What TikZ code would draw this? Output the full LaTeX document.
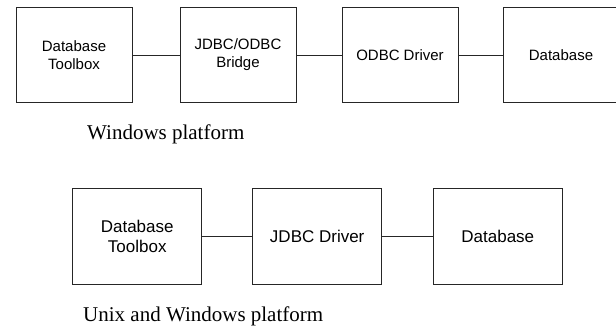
\documentclass[tikz,border=0pt]{standalone}
\usepackage{fontspec}
\setmainfont{Liberation Serif}
\setsansfont{Liberation Sans}
\begin{document}
\begin{tikzpicture}[x=1pt,y=1pt,
  blk/.style={draw=black!85, line width=0.9pt, minimum width=116pt, minimum height=95.4pt,
    inner sep=0pt, align=center, font=\sffamily\fontsize{15}{18}\selectfont},
  blkb/.style={blk, minimum width=129pt, minimum height=96pt, font=\sffamily\fontsize{17}{20}\selectfont},
  link/.style={draw=black!85, line width=0.9pt},
  caption/.style={anchor=base west, inner sep=0pt, font=\fontsize{21}{25}\selectfont}]
\useasboundingbox (0,0) rectangle (616,329);
\begin{scope}
\clip (0,0) rectangle (616,329);
% top row
\node[blk] (t1) at (74,274) {Database\\Toolbox};
\node[blk] (t2) at (238,274) {JDBC/ODBC\\Bridge};
\node[blk] (t3) at (400,274) {ODBC Driver};
\node[blk] (t4) at (561,274) {Database};
\draw[link] (t1) -- (t2);
\draw[link] (t2) -- (t3);
\draw[link] (t3) -- (t4);
\node[caption] (c1) at (87,189) {Windows platform};
% bottom row
\node[blkb] (b1) at (137.2,93) {Database\\Toolbox};
\node[blkb] (b2) at (317.2,93) {JDBC Driver};
\node[blkb] (b3) at (497.8,93) {Database};
\draw[link] (b1) -- (b2);
\draw[link] (b2) -- (b3);
\node[caption] (c2) at (83,7.3) {Unix and Windows platform};
\end{scope}
\end{tikzpicture}
\end{document}
